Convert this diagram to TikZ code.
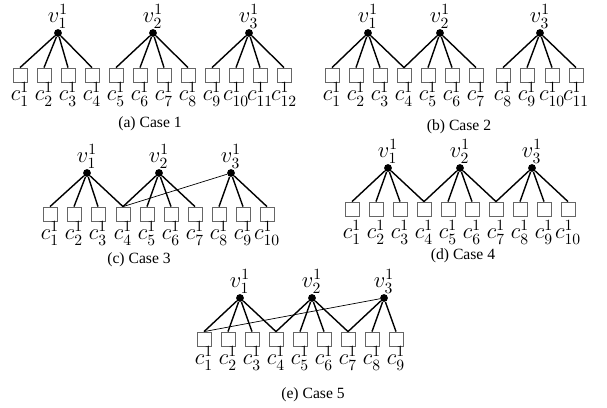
\documentclass[tikz,border=0pt]{standalone}
\usepackage{fontspec}
\newfontfamily\capfont{Liberation Serif}
\tikzset{
  vtx/.style={circle, fill, inner sep=0pt, minimum size=5pt, label distance=0.6pt},
  clause/.style={draw=black!60, line width=0.45pt, minimum size=9pt, inner sep=0pt, label distance=0.4pt},
  link/.style={line width=0.9pt},
  farlink/.style={line width=0.45pt},
  caption/.style={font=\capfont\fontsize{10}{12}\selectfont},
  every label/.append style={inner sep=0pt, font=\Large}
}
\begin{document}
\begin{tikzpicture}[x=0.64pt, y=-0.64pt]
  \useasboundingbox (0,0) rectangle (607,408);
  % (a) Case 1
  \node[vtx, label=above:$v^1_1$] (a-v1) at (58,33) {};
  \node[vtx, label=above:$v^1_2$] (a-v2) at (153,33) {};
  \node[vtx, label=above:$v^1_3$] (a-v3) at (249,33) {};
  \node[clause, label=below:$c^1_1$] (a-c1) at (20,75) {};
  \node[clause, label=below:$c^1_2$] (a-c2) at (44,75) {};
  \node[clause, label=below:$c^1_3$] (a-c3) at (68,75) {};
  \node[clause, label=below:$c^1_4$] (a-c4) at (92,75) {};
  \node[clause, label=below:$c^1_5$] (a-c5) at (116,75) {};
  \node[clause, label=below:$c^1_6$] (a-c6) at (140,75) {};
  \node[clause, label=below:$c^1_7$] (a-c7) at (164,75) {};
  \node[clause, label=below:$c^1_8$] (a-c8) at (188,75) {};
  \node[clause, label=below:$c^1_9$] (a-c9) at (212,75) {};
  \node[clause, label=below:$c^1_{10}$] (a-c10) at (236,75) {};
  \node[clause, label=below:$c^1_{11}$] (a-c11) at (260,75) {};
  \node[clause, label=below:$c^1_{12}$] (a-c12) at (284,75) {};
  \draw[link] (a-v1) -- (a-c1.north) (a-v1) -- (a-c2.north) (a-v1) -- (a-c3.north) (a-v1) -- (a-c4.north)
              (a-v2) -- (a-c5.north) (a-v2) -- (a-c6.north) (a-v2) -- (a-c7.north) (a-v2) -- (a-c8.north)
              (a-v3) -- (a-c9.north) (a-v3) -- (a-c10.north) (a-v3) -- (a-c11.north) (a-v3) -- (a-c12.north);
  \node[caption] (a-cap) at (150,124) {(a) Case 1};
  % (b) Case 2
  \node[vtx, label=above:$v^1_1$] (b-v1) at (368,33) {};
  \node[vtx, label=above:$v^1_2$] (b-v2) at (440,33) {};
  \node[vtx, label=above:$v^1_3$] (b-v3) at (540,33) {};
  \node[clause, label=below:$c^1_1$] (b-c1) at (332,75) {};
  \node[clause, label=below:$c^1_2$] (b-c2) at (356,75) {};
  \node[clause, label=below:$c^1_3$] (b-c3) at (380,75) {};
  \node[clause, label=below:$c^1_4$] (b-c4) at (404,75) {};
  \node[clause, label=below:$c^1_5$] (b-c5) at (428,75) {};
  \node[clause, label=below:$c^1_6$] (b-c6) at (452,75) {};
  \node[clause, label=below:$c^1_7$] (b-c7) at (476,75) {};
  \node[clause, label=below:$c^1_8$] (b-c8) at (503,75) {};
  \node[clause, label=below:$c^1_9$] (b-c9) at (527,75) {};
  \node[clause, label=below:$c^1_{10}$] (b-c10) at (552,75) {};
  \node[clause, label=below:$c^1_{11}$] (b-c11) at (576,75) {};
  \draw[link] (b-v1) -- (b-c1.north) (b-v1) -- (b-c2.north) (b-v1) -- (b-c3.north) (b-v1) -- (b-c4.north)
              (b-v2) -- (b-c4.north) (b-v2) -- (b-c5.north) (b-v2) -- (b-c6.north) (b-v2) -- (b-c7.north)
              (b-v3) -- (b-c8.north) (b-v3) -- (b-c9.north) (b-v3) -- (b-c10.north) (b-v3) -- (b-c11.north);
  \node[caption] (b-cap) at (459,127) {(b) Case 2};
  % (c) Case 3
  \node[vtx, label=above:$v^1_1$] (c-v1) at (87,173) {};
  \node[vtx, label=above:$v^1_2$] (c-v2) at (159,173) {};
  \node[vtx, label=above:$v^1_3$] (c-v3) at (231,173) {};
  \node[clause, label=below:$c^1_1$] (c-c1) at (50,214) {};
  \node[clause, label=below:$c^1_2$] (c-c2) at (74,214) {};
  \node[clause, label=below:$c^1_3$] (c-c3) at (98,214) {};
  \node[clause, label=below:$c^1_4$] (c-c4) at (123,214) {};
  \node[clause, label=below:$c^1_5$] (c-c5) at (147,214) {};
  \node[clause, label=below:$c^1_6$] (c-c6) at (171,214) {};
  \node[clause, label=below:$c^1_7$] (c-c7) at (195,214) {};
  \node[clause, label=below:$c^1_8$] (c-c8) at (219,214) {};
  \node[clause, label=below:$c^1_9$] (c-c9) at (243,214) {};
  \node[clause, label=below:$c^1_{10}$] (c-c10) at (267,214) {};
  \draw[link] (c-v1) -- (c-c1.north) (c-v1) -- (c-c2.north) (c-v1) -- (c-c3.north) (c-v1) -- (c-c4.north)
              (c-v2) -- (c-c4.north) (c-v2) -- (c-c5.north) (c-v2) -- (c-c6.north) (c-v2) -- (c-c7.north)
              (c-v3) -- (c-c8.north) (c-v3) -- (c-c9.north) (c-v3) -- (c-c10.north);
  \draw[farlink] (c-v3) -- (c-c4.north);
  \node[caption] (c-cap) at (139,260) {(c) Case 3};
  % (d) Case 4
  \node[vtx, label=above:$v^1_1$] (d-v1) at (388,168) {};
  \node[vtx, label=above:$v^1_2$] (d-v2) at (460,168) {};
  \node[vtx, label=above:$v^1_3$] (d-v3) at (532,168) {};
  \begin{scope}[every label/.append style={yshift=-2.5pt}]
  \node[clause, label=below:$c^1_1$] (d-c1) at (352,209) {};
  \node[clause, label=below:$c^1_2$] (d-c2) at (376,209) {};
  \node[clause, label=below:$c^1_3$] (d-c3) at (400,209) {};
  \node[clause, label=below:$c^1_4$] (d-c4) at (424,209) {};
  \node[clause, label=below:$c^1_5$] (d-c5) at (448,209) {};
  \node[clause, label=below:$c^1_6$] (d-c6) at (472,209) {};
  \node[clause, label=below:$c^1_7$] (d-c7) at (496,209) {};
  \node[clause, label=below:$c^1_8$] (d-c8) at (520,209) {};
  \node[clause, label=below:$c^1_9$] (d-c9) at (544,209) {};
  \node[clause, label=below:$c^1_{10}$] (d-c10) at (568,209) {};
  \end{scope}
  \draw[link] (d-v1) -- (d-c1.north) (d-v1) -- (d-c2.north) (d-v1) -- (d-c3.north) (d-v1) -- (d-c4.north)
              (d-v2) -- (d-c4.north) (d-v2) -- (d-c5.north) (d-v2) -- (d-c6.north) (d-v2) -- (d-c7.north)
              (d-v3) -- (d-c7.north) (d-v3) -- (d-c8.north) (d-v3) -- (d-c9.north) (d-v3) -- (d-c10.north);
  \node[caption] (d-cap) at (463,256) {(d) Case 4};
  % (e) Case 5
  \node[vtx, label=above:$v^1_1$] (e-v1) at (240,298) {};
  \node[vtx, label=above:$v^1_2$] (e-v2) at (312,298) {};
  \node[vtx, label=above:$v^1_3$] (e-v3) at (384,298) {};
  \node[clause, label=below:$c^1_1$] (e-c1) at (204,339) {};
  \node[clause, label=below:$c^1_2$] (e-c2) at (228,339) {};
  \node[clause, label=below:$c^1_3$] (e-c3) at (252,339) {};
  \node[clause, label=below:$c^1_4$] (e-c4) at (276,339) {};
  \node[clause, label=below:$c^1_5$] (e-c5) at (300,339) {};
  \node[clause, label=below:$c^1_6$] (e-c6) at (324,339) {};
  \node[clause, label=below:$c^1_7$] (e-c7) at (348,339) {};
  \node[clause, label=below:$c^1_8$] (e-c8) at (372,339) {};
  \node[clause, label=below:$c^1_9$] (e-c9) at (396,339) {};
  \draw[link] (e-v1) -- (e-c1.north) (e-v1) -- (e-c2.north) (e-v1) -- (e-c3.north) (e-v1) -- (e-c4.north)
              (e-v2) -- (e-c4.north) (e-v2) -- (e-c5.north) (e-v2) -- (e-c6.north) (e-v2) -- (e-c7.north)
              (e-v3) -- (e-c7.north) (e-v3) -- (e-c8.north) (e-v3) -- (e-c9.north);
  \draw[farlink] (e-v3) -- (e-c1.north);
  \node[caption] (e-cap) at (313,395) {(e) Case 5};
\end{tikzpicture}
\end{document}
